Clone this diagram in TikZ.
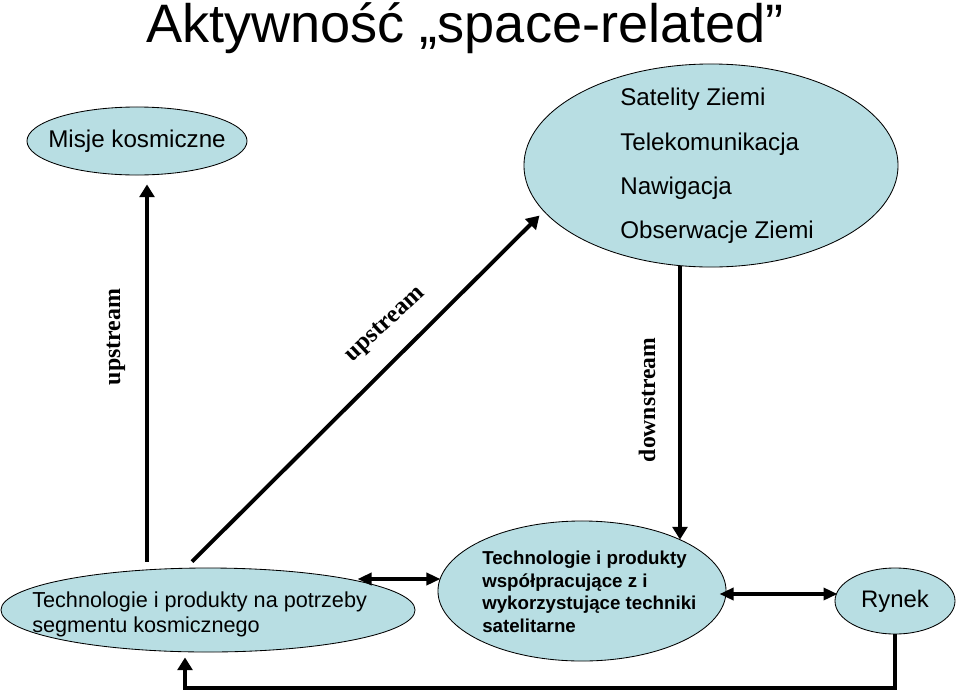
\documentclass[tikz,border=0pt]{standalone}
\usepackage{fontspec}
\setmainfont{Liberation Sans}
\newfontfamily\wordart{Liberation Serif}
\usetikzlibrary{positioning, shapes.geometric, calc, arrows.meta}

\definecolor{bubble}{RGB}{184,222,227}

\begin{document}
\begin{tikzpicture}[
    x=0.025cm, y=-0.025cm,
    blob/.style={draw, ellipse, fill=bubble, line width=0.6pt, inner sep=0pt},
    txt/.style={align=left, inner sep=0pt},
    flow/.style={line width=2.8pt, -{Triangle[length=9pt, width=10.5pt]}},
    both/.style={line width=2.8pt, {Triangle[length=10pt, width=8.5pt]}-{Triangle[length=10pt, width=8.5pt]}},
    stream/.style={inner sep=0pt, font=\wordart\bfseries\fontsize{#1}{#1}\selectfont},
    stream/.default=17
]
\useasboundingbox (0,0) rectangle (960,692);

% Title
\node[anchor=base, inner sep=0pt, font=\fontsize{38.5}{44}\selectfont] (title) at (465,42) {Aktywność „space-related”};

% Ellipses
\node[blob, minimum width=5.5cm, minimum height=1.7cm] (misje) at (137,141) {};
\node[blob, minimum width=9.35cm, minimum height=5.075cm] (sats) at (711,165.5) {};
\node[blob, minimum width=10.35cm, minimum height=2.1cm] (techspace) at (208,610) {};
\node[blob, minimum width=7.2cm, minimum height=3.5cm] (middle) at (582,591) {};
\node[blob, minimum width=3cm, minimum height=1.65cm] (rynek) at (895,601) {};

% Texts
\node[txt, font=\fontsize{17.2}{20}\selectfont] (misjetxt) at (misje.center) {Misje kosmiczne};
\node[txt, anchor=west, font=\fontsize{17.2}{31.6}\selectfont] (satstxt) at (620,166) {Satelity Ziemi\\Telekomunikacja\\Nawigacja\\Obserwacje Ziemi};
\node[txt, anchor=west, font=\fontsize{15.4}{17.7}\selectfont] (techspacetxt) at (32,614) {Technologie i produkty na potrzeby\\segmentu kosmicznego};
\node[txt, anchor=west, font=\bfseries\fontsize{13.3}{16}\selectfont] (middletxt) at (482,592) {Technologie i produkty\\współpracujące z i\\wykorzystujące techniki\\satelitarne};
\node[txt, font=\fontsize{17}{20}\selectfont] (rynektxt) at (rynek.center) {Rynek};

% Stream labels
\node[stream, rotate=90] (upleft) at (116,337) {upstream};
\node[stream=17.5, rotate=43] (updiag) at (386,325) {upstream};
\node[stream=16.8, rotate=90] (down) at (647,400) {downstream};

% Arrows
\draw[flow] ($(techspace.north)+(-61,-6)$) -- ($(misje.south)+(10,9)$);
\draw[flow] ($(techspace.north)+(-16,-6)$) -- ($(sats.south west)+(-39,-22)$);
\draw[flow] ($(sats.south)+(-31,-1)$) -- ($(middle.north)+(98,19)$);
\draw[both] ($(techspace.east)+(-58,-31)$) -- ($(middle.west)+(3,-12)$);
\draw[both] ($(middle.east)+(-7,3)$) -- ($(rynek.west)+(3,-7)$);
\draw[flow] (rynek.south) -- ++(0,54) -| ($(techspace.south)+(-23,5)$);

\end{tikzpicture}
\end{document}
